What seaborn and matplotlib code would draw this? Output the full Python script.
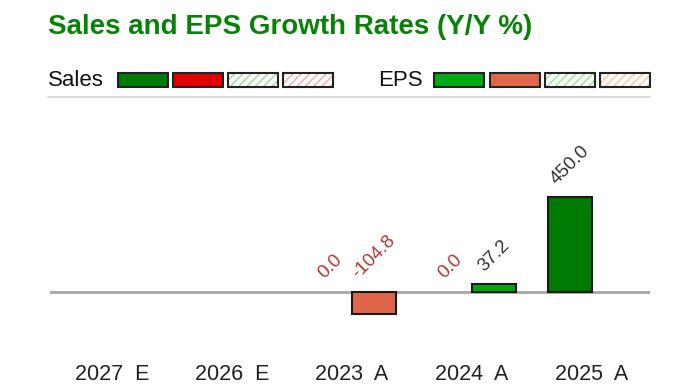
import matplotlib
matplotlib.use("Agg")
import matplotlib.pyplot as plt
import numpy as np
import pandas as pd
import seaborn as sns
from matplotlib.lines import Line2D
from matplotlib.patches import Rectangle

W, H = 700, 387

periods = ["2027  E", "2026  E", "2023  A", "2024  A", "2025  A"]
sales = [np.nan, np.nan, 0.0, 0.0, 450.0]
eps = [np.nan, np.nan, -104.8, 37.2, np.nan]
series = ["Sales", "EPS"]

# colour by series and sign: (positive, negative)
bar_colors = {"Sales": ("#007a00", "#e00000"), "EPS": ("#00a814", "#e0664a")}
legend_swatches = {
    "Sales": ["#007a00", "#e00000", ("#9fd49f", "hatch"), ("#eeaab0", "hatch")],
    "EPS": ["#00a814", "#e0664a", ("#8ee88e", "hatch"), ("#f7c49a", "hatch")],
}


def fx(px):
    return px / W


def fy(py):
    return 1 - py / H


def build_frame() -> pd.DataFrame:
    rows = []
    for name, vals in zip(series, [sales, eps]):
        for p, v in zip(periods, vals):
            rows.append({"period": p, "series": name, "value": v})
    return pd.DataFrame(rows)


def draw_legend(fig) -> None:
    fig.text(fx(48), fy(80), "Sales", fontsize=16, color="#111111",
             va="center", ha="left")
    fig.text(fx(378), fy(80), "EPS", fontsize=16, color="#111111",
             va="center", ha="left")
    starts = {"Sales": [118, 173, 228, 283], "EPS": [434, 490, 545, 600]}
    for name in series:
        for x0, sw in zip(starts[name], legend_swatches[name]):
            box = (fx(x0), fy(87)), fx(50), 14 / H
            if isinstance(sw, tuple):
                fig.add_artist(Rectangle(*box, transform=fig.transFigure,
                                         facecolor="white", edgecolor=sw[0],
                                         hatch="////", linewidth=0))
                fig.add_artist(Rectangle(*box, transform=fig.transFigure,
                                         facecolor="none", edgecolor="#222222",
                                         linewidth=1.5))
            else:
                fig.add_artist(Rectangle(*box, transform=fig.transFigure,
                                         facecolor=sw, edgecolor="#222222",
                                         linewidth=1.5))
    fig.add_artist(Line2D([fx(48), fx(650)], [fy(97), fy(97)],
                          transform=fig.transFigure, color="#d4d4d4", lw=1.2))


def main() -> None:
    sns.set_theme(style="white")
    plt.rcParams["font.family"] = ["Liberation Sans", "DejaVu Sans"]
    plt.rcParams["hatch.linewidth"] = 1.0

    df = build_frame()
    fig = plt.figure(figsize=(W / 100, H / 100), dpi=100)
    ax = fig.add_axes([fx(50), fy(345), fx(600), (345 - 100) / H])

    sns.barplot(data=df, x="period", y="value", hue="series", order=periods,
                hue_order=series, width=0.733, dodge=True, legend=False,
                errorbar=None, edgecolor="#1a1a1a", linewidth=1.5, ax=ax)

    for name, cont in zip(series, ax.containers):
        for bar, val in zip(cont, cont.datavalues):
            if np.isnan(val):
                continue
            pos, neg = bar_colors[name]
            bar.set_facecolor(pos if val >= 0 else neg)
            if val == 0:
                bar.set_linewidth(0)
            cx = bar.get_x() + bar.get_width() / 2
            ax.annotate(f"{val:.1f}", (cx, max(val, 0)), xytext=(0, 7),
                        textcoords="offset points", rotation=45,
                        ha="center", va="bottom", fontsize=13.5,
                        color="#b03535" if val <= 0 else "#333333")

    ax.axhline(0, color="#a6a6a6", lw=2, zorder=0.5)
    ax.set_xlim(-0.517, 4.483)
    ax.set_ylim(-252, 914)
    ax.set_xlabel("")
    ax.set_ylabel("")
    ax.set_yticks([])
    ax.tick_params(axis="x", length=0, pad=14, labelsize=15.5, labelcolor="#222222")
    sns.despine(ax=ax, left=True, bottom=True)

    fig.text(fx(48), fy(27), "Sales and EPS Growth Rates (Y/Y %)",
             fontsize=20, fontweight="bold", color="#078207",
             va="center", ha="left")
    draw_legend(fig)

    fig.savefig("out.png", dpi=100)
    plt.close(fig)


if __name__ == "__main__":
    main()
